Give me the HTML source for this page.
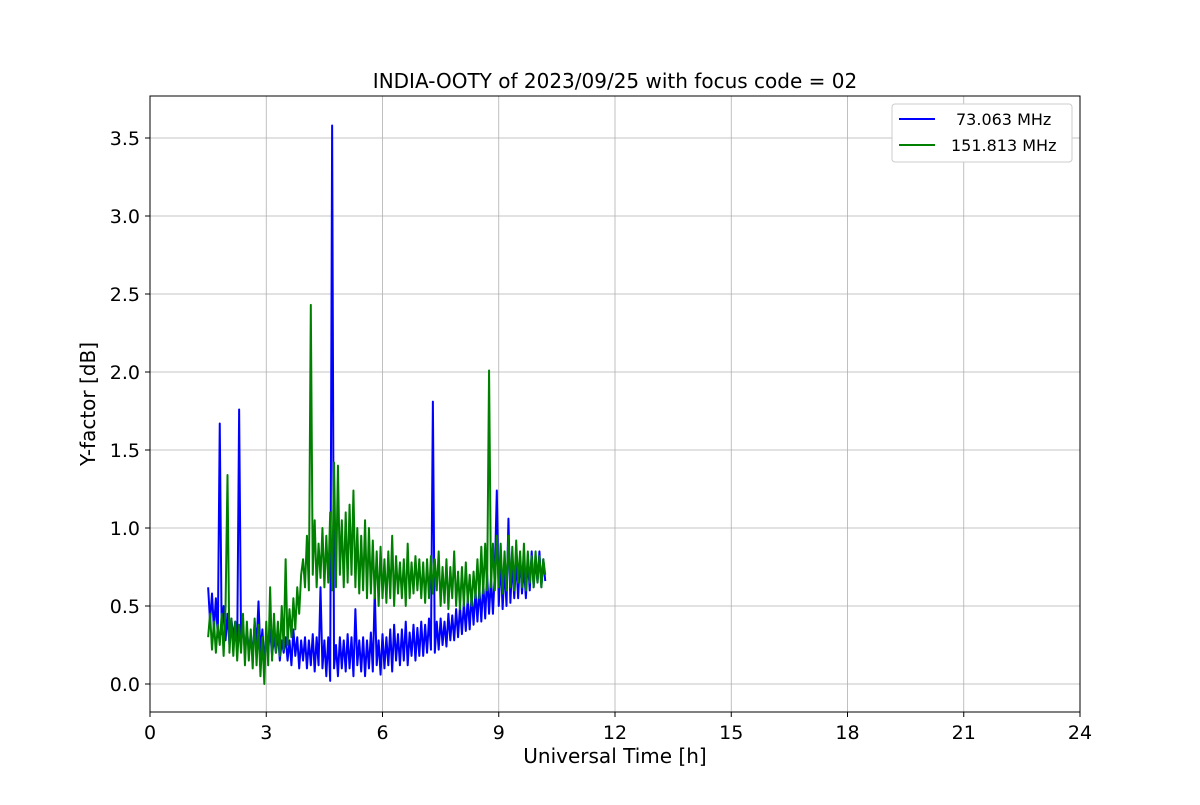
<!DOCTYPE html>
<html><head><meta charset="utf-8"><style>
body{margin:0;background:#fff;}
svg text{font-family:"DejaVu Sans","Liberation Sans",sans-serif;}
</style></head><body>
<svg id="chart" width="1200" height="800" xmlns="http://www.w3.org/2000/svg">
<rect width="1200" height="800" fill="#fff"/>
<g id="grid"></g>
<g id="series"></g>
<rect x="150" y="96" width="930" height="616" fill="none" stroke="#000" stroke-width="1"/>
<g id="ticks"></g>
<text x="615" y="88" font-size="20" text-anchor="middle">INDIA-OOTY of 2023/09/25 with focus code = 02</text>
<text x="615" y="763" font-size="20" text-anchor="middle">Universal Time [h]</text>
<text transform="translate(95,404) rotate(-90)" font-size="20" text-anchor="middle">Y-factor [dB]</text>
<g>
<rect x="892" y="104" width="180" height="58" rx="3" fill="#fff" stroke="#ccc"/>
<line x1="899" y1="119" x2="935" y2="119" stroke="blue" stroke-width="2"/>
<text x="956" y="125" font-size="16">73.063 MHz</text>
<line x1="899" y1="145" x2="935" y2="145" stroke="green" stroke-width="2"/>
<text x="951" y="151" font-size="16">151.813 MHz</text>
</g>
</svg>
<script>
const xTicks=[0,3,6,9,12,15,18,21,24];
const yTicks=[0.0,0.5,1.0,1.5,2.0,2.5,3.0,3.5];
const tStart=1.5, tStep=0.05;
const blue=[0.62,0.40,0.58,0.35,0.55,0.30,1.67,0.32,0.50,0.28,
0.45,0.25,0.42,0.30,0.40,0.22,1.76,0.28,0.38,0.20,
0.35,0.22,0.30,0.18,0.40,0.25,0.53,0.20,0.35,0.15,
0.30,0.22,0.35,0.18,0.30,0.20,0.33,0.15,0.28,0.20,
0.30,0.15,0.28,0.12,0.35,0.18,0.30,0.10,0.28,0.15,
0.30,0.10,0.28,0.12,0.32,0.08,0.30,0.12,0.62,0.10,
0.28,0.05,0.30,0.02,3.58,0.10,0.25,0.05,0.30,0.10,
0.28,0.08,0.32,0.10,0.30,0.05,0.48,0.12,0.28,0.08,
0.30,0.05,0.28,0.10,0.33,0.08,0.60,0.12,0.28,0.06,
0.32,0.10,0.30,0.12,0.35,0.08,0.38,0.15,0.32,0.12,
0.35,0.15,0.40,0.12,0.33,0.18,0.38,0.15,0.36,0.18,
0.40,0.18,0.38,0.20,0.42,0.22,1.81,0.20,0.40,0.22,
0.42,0.25,0.40,0.24,0.45,0.28,0.44,0.28,0.48,0.30,
0.50,0.32,0.52,0.34,0.55,0.35,0.58,0.38,0.60,0.40,
0.62,0.40,0.65,0.42,0.70,0.45,0.68,0.45,0.72,1.24,
0.50,0.80,0.48,0.75,0.50,1.06,0.52,0.78,0.55,0.80,
0.55,0.82,0.58,0.75,0.55,0.80,0.60,0.85,0.62,0.80,
0.65,0.85,0.62,0.80,0.66];
const green=[0.30,0.45,0.22,0.40,0.20,0.38,0.25,0.45,0.18,0.50,
1.34,0.20,0.42,0.18,0.40,0.15,0.38,0.20,0.45,0.12,
0.40,0.15,0.35,0.10,0.42,0.12,0.38,0.05,0.30,0.00,
0.40,0.12,0.62,0.15,0.45,0.20,0.40,0.18,0.50,0.22,
0.80,0.25,0.48,0.30,0.55,0.35,0.62,0.45,0.70,0.80,
0.62,0.95,0.60,2.43,0.70,1.05,0.62,0.90,0.68,1.00,
0.62,0.95,0.65,1.10,0.60,1.42,0.62,1.40,0.70,1.05,
0.62,1.10,0.65,1.15,0.70,1.24,0.62,1.00,0.58,0.95,
0.60,1.05,0.55,1.00,0.58,0.92,0.55,0.85,0.50,0.88,
0.55,0.80,0.52,0.85,0.55,0.95,0.50,0.82,0.58,0.78,
0.55,0.80,0.50,0.90,0.55,0.78,0.58,0.82,0.60,0.80,
0.55,0.78,0.52,0.80,0.55,0.82,0.58,0.80,0.60,0.85,
0.50,0.75,0.52,0.80,0.48,0.75,0.55,0.85,0.50,0.72,
0.48,0.75,0.50,0.78,0.52,0.70,0.50,0.72,0.55,0.80,
0.55,0.88,0.58,0.90,0.60,2.01,0.62,0.90,0.60,0.95,
0.62,0.90,0.58,0.85,0.60,0.95,0.62,0.88,0.60,0.92,
0.65,0.85,0.62,0.90,0.60,0.85,0.65,0.82,0.62,0.85,
0.65,0.82,0.62,0.80,0.70];
const NS="http://www.w3.org/2000/svg";
const X0=150,X1=1080,Y0=712,Y1=96,XMIN=0,XMAX=24,YMIN=-0.1795,YMAX=3.7692;
function xs(v){return X0+(v-XMIN)/(XMAX-XMIN)*(X1-X0);}
function ys(v){return Y0-(v-YMIN)/(YMAX-YMIN)*(Y0-Y1);}
function mk(tag,attrs,parent){const e=document.createElementNS(NS,tag);for(const k in attrs)e.setAttribute(k,attrs[k]);parent.appendChild(e);return e;}
const grid=document.getElementById('grid'),ticks=document.getElementById('ticks'),ser=document.getElementById('series');
xTicks.forEach(v=>{const x=xs(v);
 const g=mk('line',{x1:x,x2:x,y1:Y1,y2:Y0,stroke:'#b0b0b0','stroke-width':0.8},grid);
 
 
 const t=mk('line',{x1:x,x2:x,y1:Y0,y2:Y0+5,stroke:'#000'},ticks);
 
 
 const l=mk('text',{x:x,y:Y0+27,'font-size':19,'text-anchor':'middle'},ticks);l.textContent=v;
 
 
});
yTicks.forEach(v=>{const y=ys(v);
 const g=mk('line',{x1:X0,x2:X1,y1:y,y2:y,stroke:'#b0b0b0','stroke-width':0.8},grid);
 
 
 const t=mk('line',{x1:X0-5,x2:X0,y1:y,y2:y,stroke:'#000'},ticks);
 
 
 const l=mk('text',{x:X0-10,y:y+7,'font-size':19,'text-anchor':'end'},ticks);l.textContent=v.toFixed(1);
 
 
});
function draw(arr,color,name){
 const pts=arr.map((v,i)=>xs(tStart+i*tStep).toFixed(2)+','+ys(v).toFixed(2)).join(' ');
 const p=mk('polyline',{points:pts,fill:'none',stroke:color,'stroke-width':2,'stroke-linejoin':'round'},ser);
 
 
}
draw(blue,'blue','series-73mhz');
draw(green,'green','series-151mhz');
</script>
</body></html>
